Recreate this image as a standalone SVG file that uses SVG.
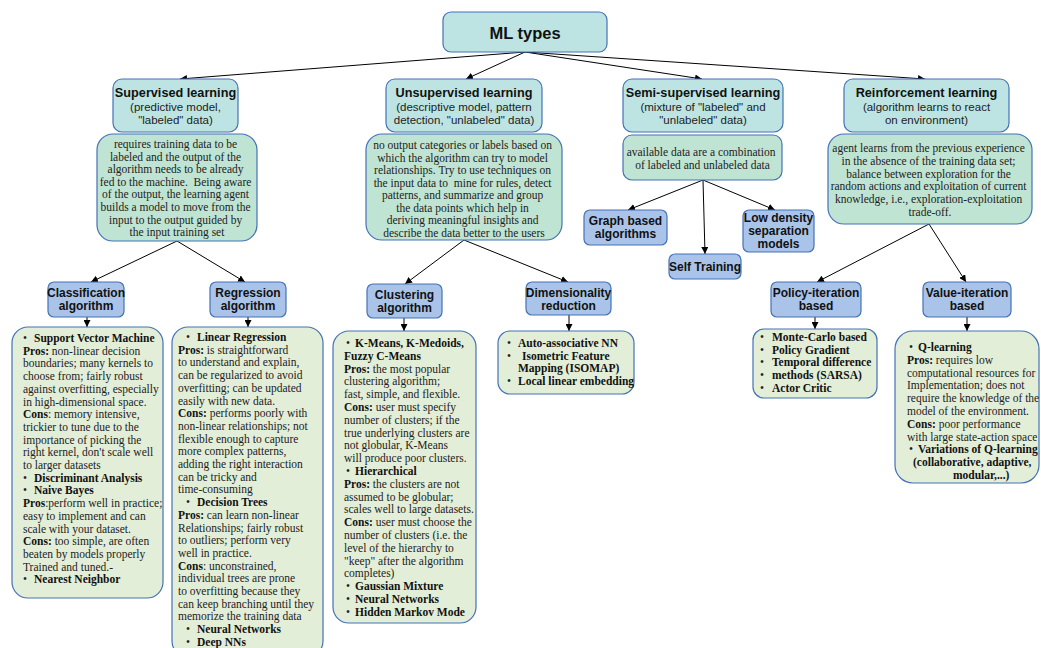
<svg xmlns="http://www.w3.org/2000/svg" width="1041" height="648" viewBox="0 0 1041 648">
  <style>
    .top { fill: #bde4e3; stroke: #4472b8; stroke-width: 1.2; }
    .desc { fill: #bfe4d3; stroke: #4472b8; stroke-width: 1.2; }
    .algo { fill: #a9c3e9; stroke: #4472b8; stroke-width: 1.2; }
    .list { fill: #e2eed8; stroke: #4472b8; stroke-width: 1.2; }
    .h { font-family: "Liberation Sans", Arial, sans-serif; font-weight: bold; font-size: 12.7px; fill: #111; text-anchor: middle; }
    .hs { font-family: "Liberation Sans", Arial, sans-serif; font-size: 11.5px; fill: #222; text-anchor: middle; }
    .a { font-family: "Liberation Sans", Arial, sans-serif; font-weight: bold; font-size: 12px; fill: #111; text-anchor: middle; }
    .d { font-family: "Liberation Serif", "Times New Roman", serif; font-size: 11.5px; fill: #222; text-anchor: middle; }
    .t { font-family: "Liberation Serif", "Times New Roman", serif; font-size: 11.5px; fill: #222; }
    .b { font-weight: bold; fill: #111; }
    .conn line { stroke: #000; stroke-width: 1; marker-end: url(#arr); }
  </style>
  <defs>
    <marker id="arr" viewBox="0 0 10 10" refX="10" refY="5" markerWidth="7" markerHeight="7" markerUnits="userSpaceOnUse" orient="auto">
      <path d="M0,0 L10,5 L0,10 z" fill="#000"/>
    </marker>
  </defs>

  <rect width="1041" height="648" fill="#fff"/>

  <!-- connectors -->
  <g id="connectors" class="conn">
    <line x1="525" y1="52" x2="180" y2="79"/>
    <line x1="525" y1="52" x2="466" y2="79"/>
    <line x1="525" y1="52" x2="702" y2="79"/>
    <line x1="525" y1="52" x2="925" y2="79"/>
    <line x1="177" y1="241" x2="91" y2="282"/>
    <line x1="177" y1="241" x2="245" y2="282"/>
    <line x1="464" y1="240" x2="405" y2="284"/>
    <line x1="464" y1="240" x2="568" y2="282"/>
    <line x1="703" y1="180" x2="628" y2="210"/>
    <line x1="703" y1="180" x2="705" y2="254"/>
    <line x1="703" y1="180" x2="775" y2="210"/>
    <line x1="929" y1="224" x2="817" y2="282"/>
    <line x1="929" y1="224" x2="966" y2="282"/>
    <line x1="87" y1="317" x2="87" y2="327"/>
    <line x1="248" y1="317" x2="248" y2="327"/>
    <line x1="404" y1="318" x2="404" y2="331"/>
    <line x1="569" y1="315" x2="569" y2="331"/>
    <line x1="815" y1="317" x2="815" y2="329"/>
    <line x1="967" y1="317" x2="967" y2="331"/>
  </g>

  <!-- root -->
  <g id="ml-types">
    <rect class="top" x="443" y="12" width="164" height="40" rx="8"/>
    <text class="h" x="525" y="38.5" style="font-size:16.5px">ML types</text>
  </g>

  <!-- learning types -->
  <g id="supervised">
    <rect class="top" x="113" y="79" width="125" height="53" rx="9"/>
    <text class="h" x="175.5" y="97">Supervised learning</text>
    <text class="hs" x="175.5" y="111">(predictive model,</text>
    <text class="hs" x="175.5" y="123.5">"labeled" data)</text>
  </g>
  <g id="unsupervised">
    <rect class="top" x="386" y="79" width="156" height="53" rx="9"/>
    <text class="h" x="464" y="97">Unsupervised learning</text>
    <text class="hs" x="464" y="111">(descriptive model, pattern</text>
    <text class="hs" x="464" y="123.5">detection, "unlabeled" data)</text>
  </g>
  <g id="semi-supervised">
    <rect class="top" x="623" y="79" width="160" height="53" rx="9"/>
    <text class="h" x="703" y="97">Semi-supervised learning</text>
    <text class="hs" x="703" y="111">(mixture of "labeled" and</text>
    <text class="hs" x="703" y="123.5">"unlabeled" data)</text>
  </g>
  <g id="reinforcement">
    <rect class="top" x="844" y="79" width="165" height="53" rx="9"/>
    <text class="h" x="926.5" y="97">Reinforcement learning</text>
    <text class="hs" x="926.5" y="111">(algorithm learns to react</text>
    <text class="hs" x="926.5" y="123.5">on environment)</text>
  </g>

  <!-- descriptions -->
  <g id="supervised-desc">
    <rect class="desc" x="97" y="134" width="160" height="107" rx="16"/>
    <text class="d">
      <tspan x="177" y="148">requires training data to be</tspan>
      <tspan x="177" y="160.6">labeled and the output of the</tspan>
      <tspan x="177" y="173.2">algorithm needs to be already</tspan>
      <tspan x="177" y="185.8">fed to the machine.&#160; Being aware</tspan>
      <tspan x="177" y="198.4">of the output, the learning agent</tspan>
      <tspan x="177" y="211">builds a model to move from the</tspan>
      <tspan x="177" y="223.6">input to the output guided by</tspan>
      <tspan x="177" y="236.2">the input training set</tspan>
    </text>
  </g>
  <g id="unsupervised-desc">
    <rect class="desc" x="366" y="134" width="196" height="106" rx="16"/>
    <text class="d">
      <tspan x="464" y="149">no output categories or labels based on</tspan>
      <tspan x="464" y="161.5">which the algorithm can try to model</tspan>
      <tspan x="464" y="174">relationships. Try to use techniques on</tspan>
      <tspan x="464" y="186.5">the input data to&#160; mine for rules, detect</tspan>
      <tspan x="464" y="199">patterns, and summarize and group</tspan>
      <tspan x="464" y="211.5">the data points which help in</tspan>
      <tspan x="464" y="224">deriving meaningful insights and</tspan>
      <tspan x="464" y="236.5">describe the data better to the users</tspan>
    </text>
  </g>
  <g id="semi-desc">
    <rect class="desc" x="623" y="135" width="159" height="45" rx="9"/>
    <text class="d">
      <tspan x="702.5" y="156">available data are a combination</tspan>
      <tspan x="702.5" y="168.5">of labeled and unlabeled data</tspan>
    </text>
  </g>
  <g id="reinforcement-desc">
    <rect class="desc" x="828" y="134" width="204" height="90" rx="16"/>
    <text class="d">
      <tspan x="930" y="152">agent learns from the previous experience</tspan>
      <tspan x="930" y="164.8">in the absence of the training data set;</tspan>
      <tspan x="930" y="177.6">balance between exploration for the</tspan>
      <tspan x="930" y="190.4">random actions and exploitation of current</tspan>
      <tspan x="930" y="203.2">knowledge, i.e., exploration-exploitation</tspan>
      <tspan x="930" y="216">trade-off.</tspan>
    </text>
  </g>

  <!-- semi-supervised methods -->
  <g id="graph-based">
    <rect class="algo" x="584" y="210" width="83" height="35" rx="6"/>
    <text class="a" x="625.5" y="225">Graph based</text>
    <text class="a" x="625.5" y="238">algorithms</text>
  </g>
  <g id="self-training">
    <rect class="algo" x="669" y="254" width="72" height="25" rx="6"/>
    <text class="a" x="705" y="271">Self Training</text>
  </g>
  <g id="low-density">
    <rect class="algo" x="743" y="210" width="71" height="42" rx="6"/>
    <text class="a" x="778.5" y="222">Low density</text>
    <text class="a" x="778.5" y="235">separation</text>
    <text class="a" x="778.5" y="248">models</text>
  </g>

  <!-- algorithm families -->
  <g id="classification">
    <rect class="algo" x="48" y="282" width="76" height="35" rx="6"/>
    <text class="a" x="86" y="297">Classification</text>
    <text class="a" x="86" y="310">algorithm</text>
  </g>
  <g id="regression">
    <rect class="algo" x="210" y="282" width="76" height="35" rx="6"/>
    <text class="a" x="248" y="297">Regression</text>
    <text class="a" x="248" y="310">algorithm</text>
  </g>
  <g id="clustering">
    <rect class="algo" x="367" y="284" width="75" height="34" rx="6"/>
    <text class="a" x="404.5" y="299">Clustering</text>
    <text class="a" x="404.5" y="312">algorithm</text>
  </g>
  <g id="dimensionality">
    <rect class="algo" x="526" y="282" width="85" height="33" rx="6"/>
    <text class="a" x="568.5" y="297">Dimensionality</text>
    <text class="a" x="568.5" y="310">reduction</text>
  </g>
  <g id="policy-iteration">
    <rect class="algo" x="771" y="282" width="90" height="35" rx="6"/>
    <text class="a" x="816" y="297">Policy-iteration</text>
    <text class="a" x="816" y="310">based</text>
  </g>
  <g id="value-iteration">
    <rect class="algo" x="923" y="282" width="88" height="35" rx="6"/>
    <text class="a" x="967" y="297">Value-iteration</text>
    <text class="a" x="967" y="310">based</text>
  </g>

  <!-- classification methods -->
  <g id="classification-list">
    <rect class="list" x="12" y="327" width="151" height="271" rx="16"/>
    <text class="t">
      <tspan x="23" y="342">•</tspan><tspan x="34" y="342" class="b">Support Vector Machine</tspan>
      <tspan x="23" y="354.7" class="b">Pros:</tspan><tspan> non-linear decision</tspan>
      <tspan x="23" y="367.4">boundaries; many kernels to</tspan>
      <tspan x="23" y="380.1">choose from; fairly robust</tspan>
      <tspan x="23" y="392.8">against overfitting, especially</tspan>
      <tspan x="23" y="405.5">in high-dimensional space.</tspan>
      <tspan x="23" y="418.2" class="b">Cons</tspan><tspan>: memory intensive,</tspan>
      <tspan x="23" y="430.9">trickier to tune due to the</tspan>
      <tspan x="23" y="443.6">importance of picking the</tspan>
      <tspan x="23" y="456.3">right kernel, don't scale well</tspan>
      <tspan x="23" y="469">to larger datasets</tspan>
      <tspan x="23" y="481.7">•</tspan><tspan x="34" y="481.7" class="b">Discriminant Analysis</tspan>
      <tspan x="23" y="494.4">•</tspan><tspan x="34" y="494.4" class="b">Naive Bayes</tspan>
      <tspan x="23" y="507.1" class="b">Pros</tspan><tspan>:perform well in practice;</tspan>
      <tspan x="23" y="519.8">easy to implement and can</tspan>
      <tspan x="23" y="532.5">scale with your dataset.</tspan>
      <tspan x="23" y="545.2" class="b">Cons:</tspan><tspan> too simple, are often</tspan>
      <tspan x="23" y="557.9">beaten by models properly</tspan>
      <tspan x="23" y="570.6">Trained and tuned.-</tspan>
      <tspan x="23" y="583.3">•</tspan><tspan x="34" y="583.3" class="b">Nearest Neighbor</tspan>
    </text>
  </g>

  <!-- regression methods -->
  <g id="regression-list">
    <rect class="list" x="172" y="327" width="151" height="330" rx="16"/>
    <text class="t">
      <tspan x="186" y="341">•</tspan><tspan x="197" y="341" class="b">Linear Regression</tspan>
      <tspan x="178" y="353.7" class="b">Pros:</tspan><tspan> is straightforward</tspan>
      <tspan x="178" y="366.4">to understand and explain,</tspan>
      <tspan x="178" y="379.1">can be regularized to avoid</tspan>
      <tspan x="178" y="391.8">overfitting; can be updated</tspan>
      <tspan x="178" y="404.5">easily with new data.</tspan>
      <tspan x="178" y="417.2" class="b">Cons:</tspan><tspan> performs poorly with</tspan>
      <tspan x="178" y="429.9">non-linear relationships; not</tspan>
      <tspan x="178" y="442.6">flexible enough to capture</tspan>
      <tspan x="178" y="455.3">more complex patterns,</tspan>
      <tspan x="178" y="468">adding the right interaction</tspan>
      <tspan x="178" y="480.7">can be tricky and</tspan>
      <tspan x="178" y="493.4">time-consuming</tspan>
      <tspan x="186" y="506.1">•</tspan><tspan x="197" y="506.1" class="b">Decision Trees</tspan>
      <tspan x="178" y="518.8" class="b">Pros:</tspan><tspan> can learn non-linear</tspan>
      <tspan x="178" y="531.5">Relationships; fairly robust</tspan>
      <tspan x="178" y="544.2">to outliers; perform very</tspan>
      <tspan x="178" y="556.9">well in practice.</tspan>
      <tspan x="178" y="569.6" class="b">Cons</tspan><tspan>: unconstrained,</tspan>
      <tspan x="178" y="582.3">individual trees are prone</tspan>
      <tspan x="178" y="595">to overfitting because they</tspan>
      <tspan x="178" y="607.7">can keep branching until they</tspan>
      <tspan x="178" y="620.4">memorize the training data</tspan>
      <tspan x="186" y="633.1">•</tspan><tspan x="197" y="633.1" class="b">Neural Networks</tspan>
      <tspan x="186" y="645.8">•</tspan><tspan x="197" y="645.8" class="b">Deep NNs</tspan>
    </text>
  </g>

  <!-- clustering methods -->
  <g id="clustering-list">
    <rect class="list" x="333" y="331" width="143" height="292" rx="16"/>
    <text class="t">
      <tspan x="346" y="347">•</tspan><tspan x="355" y="347" class="b">K-Means, K-Medoids,</tspan>
      <tspan x="344" y="359.8" class="b">Fuzzy C-Means</tspan>
      <tspan x="344" y="372.6" class="b">Pros:</tspan><tspan> the most popular</tspan>
      <tspan x="344" y="385.4">clustering algorithm;</tspan>
      <tspan x="344" y="398.2">fast, simple, and flexible.</tspan>
      <tspan x="344" y="411" class="b">Cons:</tspan><tspan> user must specify</tspan>
      <tspan x="344" y="423.8">number of clusters; if the</tspan>
      <tspan x="344" y="436.6">true underlying clusters are</tspan>
      <tspan x="344" y="449.4">not globular, K-Means</tspan>
      <tspan x="344" y="462.2">will produce poor clusters.</tspan>
      <tspan x="346" y="475">•</tspan><tspan x="355" y="475" class="b">Hierarchical</tspan>
      <tspan x="344" y="487.8" class="b">Pros:</tspan><tspan> the clusters are not</tspan>
      <tspan x="344" y="500.6">assumed to be globular;</tspan>
      <tspan x="344" y="513.4">scales well to large datasets.</tspan>
      <tspan x="344" y="526.2" class="b">Cons:</tspan><tspan> user must choose the</tspan>
      <tspan x="344" y="539">number of clusters (i.e. the</tspan>
      <tspan x="344" y="551.8">level of the hierarchy to</tspan>
      <tspan x="344" y="564.6">"keep" after the algorithm</tspan>
      <tspan x="344" y="577.4">completes)</tspan>
      <tspan x="346" y="590.2">•</tspan><tspan x="355" y="590.2" class="b">Gaussian Mixture</tspan>
      <tspan x="346" y="603">•</tspan><tspan x="355" y="603" class="b">Neural Networks</tspan>
      <tspan x="346" y="615.8">•</tspan><tspan x="355" y="615.8" class="b">Hidden Markov Mode</tspan>
    </text>
  </g>

  <!-- dimensionality reduction methods -->
  <g id="dimensionality-list">
    <rect class="list" x="498" y="331" width="136" height="63" rx="12"/>
    <text class="t">
      <tspan x="507" y="347">•</tspan><tspan x="518" y="347" class="b">Auto-associative NN</tspan>
      <tspan x="507" y="359.5">•</tspan><tspan x="522" y="359.5" class="b">Isometric Feature</tspan>
      <tspan x="518" y="372" class="b">Mapping (ISOMAP)</tspan>
      <tspan x="507" y="384.5">•</tspan><tspan x="518" y="384.5" class="b">Local linear embedding</tspan>
    </text>
  </g>

  <!-- policy-iteration methods -->
  <g id="policy-list">
    <rect class="list" x="753" y="329" width="124" height="69" rx="11"/>
    <text class="t">
      <tspan x="760" y="341">•</tspan><tspan x="772" y="341" class="b">Monte-Carlo based</tspan>
      <tspan x="760" y="353.7">•</tspan><tspan x="772" y="353.7" class="b">Policy Gradient</tspan>
      <tspan x="760" y="366.4">•</tspan><tspan x="772" y="366.4" class="b">Temporal difference</tspan>
      <tspan x="760" y="379.1">•</tspan><tspan x="772" y="379.1" class="b">methods (SARSA)</tspan>
      <tspan x="760" y="391.8">•</tspan><tspan x="772" y="391.8" class="b">Actor Critic</tspan>
    </text>
  </g>

  <!-- value-iteration methods -->
  <g id="value-list">
    <rect class="list" x="895" y="331" width="144" height="152" rx="18"/>
    <text class="t">
      <tspan x="909" y="351">•</tspan><tspan x="918" y="351" class="b">Q-learning</tspan>
      <tspan x="907" y="363.8" class="b">Pros:</tspan><tspan> requires low</tspan>
      <tspan x="907" y="376.6">computational resources for</tspan>
      <tspan x="907" y="389.4">Implementation; does not</tspan>
      <tspan x="907" y="402.2">require the knowledge of the</tspan>
      <tspan x="907" y="415">model of the environment.</tspan>
      <tspan x="907" y="427.8" class="b">Cons:</tspan><tspan> poor performance</tspan>
      <tspan x="907" y="440.6">with large state-action space</tspan>
      <tspan x="909" y="453.4">•</tspan><tspan x="918" y="453.4" class="b">Variations of Q-learning</tspan>
      <tspan x="913" y="466.2" class="b">(collaborative, adaptive,</tspan>
      <tspan x="953" y="479" class="b">modular,...)</tspan>
    </text>
  </g>
</svg>
